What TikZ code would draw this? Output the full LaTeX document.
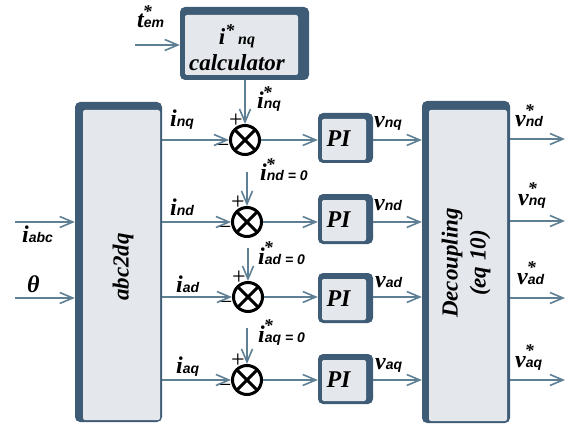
\documentclass[tikz,border=0pt]{standalone}
\usepackage{fontspec}
\setmainfont{Liberation Serif}
\setsansfont{Liberation Sans}
\usetikzlibrary{arrows.meta}
\definecolor{dk}{HTML}{3E5C76}
\definecolor{lt}{HTML}{E4E7EB}
\definecolor{ac}{HTML}{5F8094}
\newcommand\bigf{\fontsize{24}{26}\selectfont\bfseries\itshape}
\newcommand\blkf{\fontsize{23}{28}\selectfont\bfseries\itshape}
\newcommand\subf{\fontsize{14}{16}\selectfont\sffamily\bfseries\itshape}
\newcommand\lbsub[1]{{\subf #1}}
\newcommand\lbstar{\rlap{\kern-1pt\raisebox{10.5pt}{\fontsize{18}{18}\selectfont\bfseries *}}}
\begin{document}
\begin{tikzpicture}[x=1pt,y=-1pt,
  blk/.style n args={4}{fill=dk, rounded corners=5pt, inner sep=0pt,
    path picture={\fill[lt, rounded corners=2pt]
      ([xshift=#1,yshift=#4]path picture bounding box.south west) rectangle
      ([xshift=-#2,yshift=-#3]path picture bounding box.north east);}},
  sig/.style={draw=ac, line width=2pt,
    -{Straight Barb[length=13pt,width=11pt,line width=1.6pt]}},
  sumj/.style={circle, draw=black, line width=3pt, minimum size=29pt, inner sep=0pt,
    path picture={\draw[line width=3pt]
      (path picture bounding box.north west) -- (path picture bounding box.south east)
      (path picture bounding box.north east) -- (path picture bounding box.south west);}},
  lab/.style={anchor=base west, inner sep=0pt, font=\bigf},
  sgn/.style={inner sep=0pt, font=\fontsize{24}{24}\selectfont},
  btxt/.style={inner sep=0pt, font=\blkf, align=center},
]
\useasboundingbox (0,0) rectangle (565,425);

% blocks
\node[blk={5pt}{11pt}{8pt}{5pt}, minimum width=129pt, minimum height=73pt] (calc) at (244.5,43.5) {};
\node[btxt] at (237,48) {{\blkf i\raisebox{8pt}{\fontsize{18}{18}\selectfont *}\,{\fontsize{16}{16}\selectfont nq}}\\[-2pt]calculator};

\node[blk={8pt}{2pt}{8pt}{2pt}, minimum width=87pt, minimum height=320pt] (abc) at (118.5,262) {};
\node[btxt, rotate=90] at (123,267) {abc2dq};

\node[blk={7pt}{3pt}{9pt}{2pt}, minimum width=88pt, minimum height=322pt] (dec) at (466,262) {};
\node[btxt, rotate=90] at (466,263) {Decoupling\\(eq 10)};

% summing junctions
\node[sumj] (s1) at (245,140) {};
\node[sumj] (s2) at (247,222) {};
\node[sumj] (s3) at (248,297) {};
\node[sumj] (s4) at (247,380) {};

% PI controllers
\foreach \n/\y in {1/138,2/219,3/298,4/379}{
  \node[blk={4pt}{7pt}{6pt}{3pt}, minimum width=55pt, minimum height=50pt] (pi\n) at (345.5,\y) {};
  \node[btxt, font=\bigf] at ([xshift=-7pt,yshift=-1pt]pi\n.center) {PI};
}

% signs at the junctions
\foreach \n in {1,...,4}{
  \node[sgn] at ([xshift=-9pt,yshift=19pt]s\n.center) {+};
  \node[sgn] at ([xshift=-23pt,yshift=-7pt]s\n.center) {–};
}

% torque reference into the calculator
\coordinate (tin) at (135,45);
\draw[sig] (tin) -- (calc.west |- tin);
\node[lab] at (137,28) {t\lbstar\lbsub{em}};

% references into the junctions
\draw[sig] (s1.north |- calc.south) -- (s1.north);
\coordinate (r2) at (247,172);
\coordinate (r3) at (248,248);
\coordinate (r4) at (247,328);
\draw[sig] (r2) -- (s2.north);
\draw[sig] (r3) -- (s3.north);
\draw[sig] (r4) -- (s4.north);
\node[lab] at (257,109) {i\lbstar\lbsub{nq}};
\node[lab] at (260,181) {i\lbstar\lbsub{nd = 0}};
\node[lab] at (258,264) {i\lbstar\lbsub{ad = 0}};
\node[lab] at (258,342) {i\lbstar\lbsub{aq = 0}};

% measured currents
\foreach \n in {1,...,4}{
  \draw[sig] (abc.east |- s\n.west) -- (s\n.west);
  \draw[sig] (s\n.east) -- (pi\n.west |- s\n.east);
  \draw[sig] (pi\n.east |- s\n.east) -- (dec.west |- s\n.east);
}
\node[lab] at (170,127) {i\lbsub{nq}};
\node[lab] at (170,215) {i\lbsub{nd}};
\node[lab] at (176,292) {i\lbsub{ad}};
\node[lab] at (176,373) {i\lbsub{aq}};

\node[lab] at (374,128) {v\lbsub{nq}};
\node[lab] at (374,210) {v\lbsub{nd}};
\node[lab] at (375,287) {v\lbsub{ad}};
\node[lab] at (375,369) {v\lbsub{aq}};

% decoupling outputs
\coordinate (o1) at (565,139);
\coordinate (o2) at (565,221);
\coordinate (o3) at (565,298);
\coordinate (o4) at (565,380);
\foreach \n in {1,...,4}{
  \draw[sig] (dec.east |- o\n) -- (o\n);
}
\node[lab] at (515,127) {v\lbstar\lbsub{nd}};
\node[lab] at (518,205) {v\lbstar\lbsub{nq}};
\node[lab] at (517,284) {v\lbstar\lbsub{ad}};
\node[lab] at (515,367) {v\lbstar\lbsub{aq}};

% inputs of abc2dq
\coordinate (in1) at (15,222);
\coordinate (in2) at (15,298);
\draw[sig] (in1) -- (abc.west |- in1);
\draw[sig] (in2) -- (abc.west |- in2);
\node[lab] at (22,242) {i\lbsub{abc}};
\node[lab] at (27,292) {θ};
\end{tikzpicture}
\end{document}
